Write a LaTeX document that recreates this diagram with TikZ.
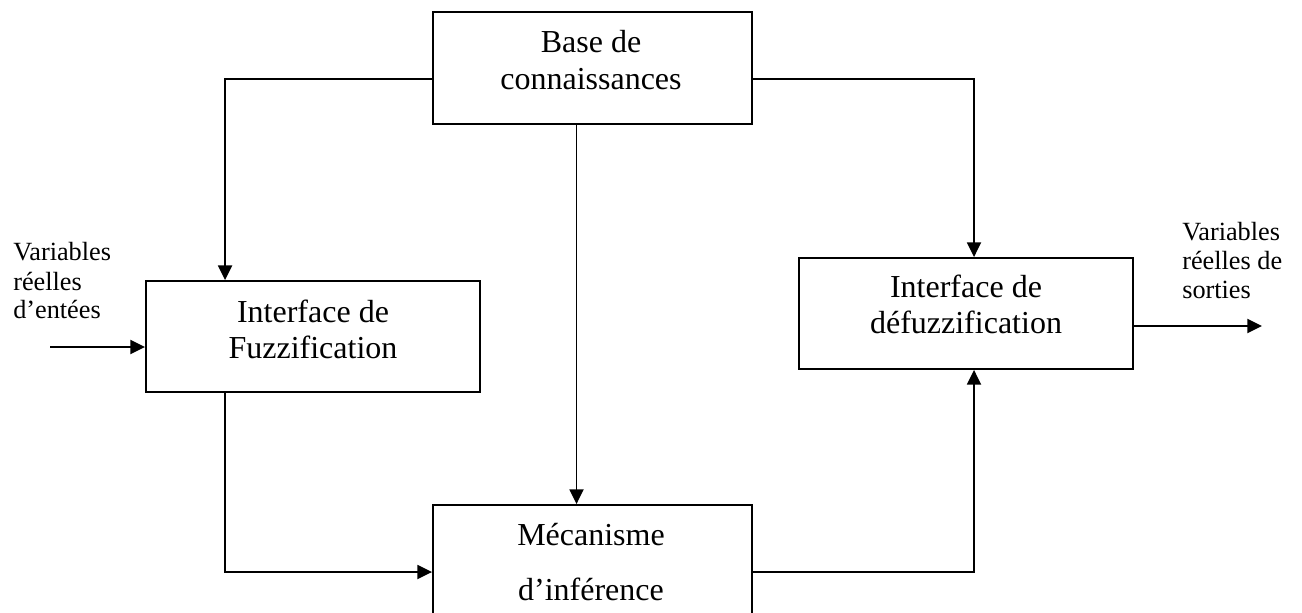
\documentclass[tikz,border=0pt]{standalone}
\usepackage{fontspec}
\setmainfont{Liberation Serif}
\usetikzlibrary{arrows.meta}
\begin{document}
\begin{tikzpicture}[x=0.75pt,y=-0.75pt,
  blk/.style={draw,line width=1.4pt,rectangle,inner sep=0pt},
  conn/.style={line width=1.4pt},
  arr/.style={conn,-{Triangle[length=11pt,width=10.5pt]}},
  boxtxt/.style={anchor=base,inner sep=0pt,font=\fontsize{24}{28}\selectfont},
  lbl/.style={anchor=base west,inner sep=0pt,font=\fontsize{19.7}{23}\selectfont}]
\useasboundingbox (0,0) rectangle (1302,613);
\clip (0,0) rectangle (1302,613);
% boxes
\node[blk,minimum width=239.25pt,minimum height=84pt] (base) at (592.5,68) {};
\node[blk,minimum width=250.5pt,minimum height=83.25pt] (fuzz) at (313,336.5) {};
\node[blk,minimum width=250.5pt,minimum height=83.25pt] (defuzz) at (966,313.5) {};
\node[blk,minimum width=239.25pt,minimum height=100.5pt] (mec) at (592.5,572) {};
% box texts
\node[boxtxt] (t1) at (591,53) {Base de};
\node[boxtxt] (t2) at (591,90) {connaissances};
\node[boxtxt] (t3) at (313,322) {Interface de};
\node[boxtxt] (t4) at (313,358) {Fuzzification};
\node[boxtxt] (t5) at (966,297) {Interface de};
\node[boxtxt] (t6) at (966,333) {défuzzification};
\node[boxtxt] (t7) at (591,545) {Mécanisme};
\node[boxtxt] (t8) at (591,600) {d’inférence};
% side labels
\node[lbl] (l1) at (13,260) {Variables};
\node[lbl] (l2) at (13,290) {réelles};
\node[lbl] (l3) at (13,318) {d’entées};
\node[lbl] (r1) at (1182,240) {Variables};
\node[lbl] (r2) at (1182,269) {réelles de};
\node[lbl] (r3) at (1182,298) {sorties};
% connectors
\coordinate (inL) at (50,347);
\coordinate (outR) at (1262,326);
\draw[arr] ([yshift=-8.25pt]base.west) -| ([xshift=60pt]fuzz.north west);
\draw[arr] ([yshift=-8.25pt]base.east) -| ([xshift=6pt]defuzz.north);
\draw[arr] ([xshift=-12pt]base.south) -- ([xshift=-12pt]mec.north);
\draw[arr] ([xshift=60pt]fuzz.south west) |- (mec.west);
\draw[arr] (mec.east) -| ([xshift=6pt]defuzz.south);
\draw[arr] (inL) -- (inL -| fuzz.west);
\draw[arr] (outR -| defuzz.east) -- (outR);
\end{tikzpicture}
\end{document}
